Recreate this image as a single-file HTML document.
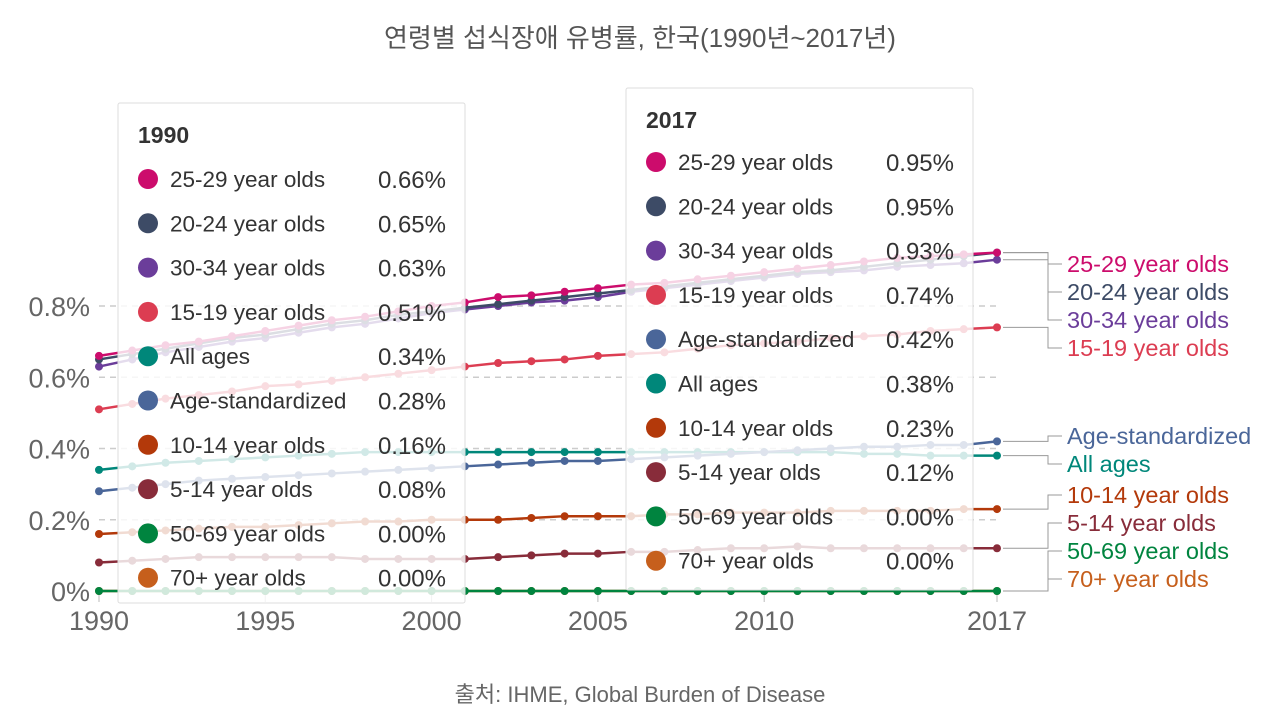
<!DOCTYPE html>
<html><head><meta charset="utf-8">
<style>
body{margin:0;background:#fff;width:1280px;height:714px;overflow:hidden;font-family:"Liberation Sans","Noto Sans CJK KR",sans-serif;}
svg text{font-family:"Liberation Sans","Noto Sans CJK KR",sans-serif;}
</style></head>
<body>
<svg id="chart" width="1280" height="714" viewBox="0 0 1280 714" xmlns="http://www.w3.org/2000/svg">
<text x="640" y="47" text-anchor="middle" font-size="26" fill="#555">연령별 섭식장애 유병률, 한국(1990년~2017년)</text>
<text x="640" y="702" text-anchor="middle" font-size="22" fill="#666">출처: IHME, Global Burden of Disease</text>
<g id="grid"></g><g id="lines"></g><g id="labels"></g><g id="tips"></g>
</svg>
<script>
const years=[];for(let y=1990;y<=2017;y++)years.push(y);
const seriesNames=["25-29 year olds","20-24 year olds","30-34 year olds","15-19 year olds","Age-standardized","All ages","10-14 year olds","5-14 year olds","50-69 year olds","70+ year olds"];
const seriesColors=["#cc0c6c","#3d4b66","#6b3d9a","#dc3d52","#4a6699","#00877a","#b3390a","#882c3a","#00843f","#c65f1c"];
const s2529=[.66,.675,.69,.70,.715,.73,.745,.76,.77,.785,.80,.81,.825,.83,.84,.85,.86,.865,.875,.885,.895,.905,.915,.925,.935,.94,.945,.95];
const s2024=[.65,.665,.68,.695,.71,.72,.735,.75,.76,.775,.785,.795,.805,.815,.825,.835,.845,.855,.865,.875,.885,.895,.90,.91,.92,.93,.94,.95];
const s3034=[.63,.65,.67,.685,.70,.71,.725,.74,.75,.765,.78,.79,.80,.81,.815,.825,.84,.85,.86,.87,.88,.89,.895,.90,.91,.915,.92,.93];
const s1519=[.51,.525,.54,.55,.56,.575,.58,.59,.60,.61,.62,.63,.64,.645,.65,.66,.665,.67,.68,.69,.695,.70,.71,.715,.72,.73,.735,.74];
const sStd=[.28,.29,.30,.31,.315,.32,.325,.33,.335,.34,.345,.35,.355,.36,.365,.365,.37,.375,.38,.385,.39,.395,.40,.405,.405,.41,.41,.42];
const sAll=[.34,.35,.36,.365,.37,.375,.38,.385,.39,.39,.39,.39,.39,.39,.39,.39,.39,.39,.39,.39,.39,.39,.39,.385,.385,.38,.38,.38];
const s1014=[.16,.165,.17,.175,.18,.18,.185,.19,.195,.195,.2,.2,.2,.205,.21,.21,.21,.215,.215,.22,.22,.22,.225,.225,.225,.225,.23,.23];
const s514=[.08,.085,.09,.095,.095,.095,.095,.095,.09,.09,.09,.09,.095,.1,.105,.105,.11,.11,.115,.12,.12,.125,.12,.12,.12,.12,.12,.12];
const s5069=new Array(28).fill(0);
const s70=new Array(28).fill(0);
const allSeries=[s2529,s2024,s3034,s1519,sStd,sAll,s1014,s514,s5069,s70];
const yTicks=[0,0.2,0.4,0.6,0.8];
const yTickLabels=["0%","0.2%","0.4%","0.6%","0.8%"];
const xTicks=[1990,1995,2000,2005,2010,2017];
const tip1Names=["25-29 year olds","20-24 year olds","30-34 year olds","15-19 year olds","All ages","Age-standardized","10-14 year olds","5-14 year olds","50-69 year olds","70+ year olds"];
const tip1Values=["0.66%","0.65%","0.63%","0.51%","0.34%","0.28%","0.16%","0.08%","0.00%","0.00%"];
const tip2Names=["25-29 year olds","20-24 year olds","30-34 year olds","15-19 year olds","Age-standardized","All ages","10-14 year olds","5-14 year olds","50-69 year olds","70+ year olds"];
const tip2Values=["0.95%","0.95%","0.93%","0.74%","0.42%","0.38%","0.23%","0.12%","0.00%","0.00%"];
const labelY=[264,292,320,348,436,464,495,523,551,579];

const X=y=>99+(y-1990)*(898/27);
const Y=v=>591-v*356.25;
const NS="http://www.w3.org/2000/svg";
function mk(tag,attrs,parent,text){const e=document.createElementNS(NS,tag);for(const k in attrs)e.setAttribute(k,attrs[k]);if(text!==undefined)e.textContent=text;parent.appendChild(e);return e;}
const grid=document.getElementById('grid'),lines=document.getElementById('lines'),labels=document.getElementById('labels'),tips=document.getElementById('tips');
yTicks.forEach((t,i)=>{
 if(t>0){const l=mk('line',{x1:99,x2:1000,y1:Y(t),y2:Y(t),stroke:'#ccc','stroke-dasharray':'6,5','stroke-width':1.5},grid);
 }
 const tx=mk('text',{x:90,y:Y(t)+10,'text-anchor':'end','font-size':27,fill:'#666'},grid,yTickLabels[i]);
 
});
const ax=mk('line',{x1:99,x2:99,y1:591,y2:600,stroke:'#bbb'},grid);

xTicks.forEach(t=>{
 const tk=mk('line',{x1:X(t),x2:X(t),y1:594,y2:602,stroke:'#bbb'},grid);
 
 const tx=mk('text',{x:X(t),y:630,'text-anchor':'middle','font-size':27,fill:'#666'},grid,String(t));
 
});
for(let s=allSeries.length-1;s>=0;s--){
 const d=allSeries[s].map((v,i)=>(i?'L':'M')+X(years[i])+','+Y(v)).join('');
 const p=mk('path',{d:d,fill:'none',stroke:seriesColors[s],'stroke-width':2.5},lines);
 
 
 allSeries[s].forEach((v,i)=>{const c=mk('circle',{cx:X(years[i]),cy:Y(v),r:4,fill:seriesColors[s]},lines);
  });
 const last=allSeries[s][27];
 const py=Y(last),ly=labelY[s];
 const con=mk('path',{d:`M1003,${py}H1048V${ly}H1062`,fill:'none',stroke:'#999','stroke-width':1},labels);
 
 const lt=mk('text',{x:1067,y:ly+8,'font-size':23.5,fill:seriesColors[s]},labels,seriesNames[s]);
 
}
function tip(x,y,w,h,first,title,names,vals,name){
 const g=mk('g',{},tips);
 mk('rect',{x:x,y:y,width:w,height:h,fill:'rgba(255,255,255,0.82)',stroke:'#ddd',rx:2},g);
 const tt=mk('text',{x:x+20,y:y+40,'font-size':23,'font-weight':'bold',fill:'#333'},g,title);
 
 names.forEach((n,i)=>{
  const cy=y+first+i*44.3;
  const col=seriesColors[seriesNames.indexOf(n)];
  mk('circle',{cx:x+30,cy:cy,r:10,fill:col},g);
  const a=mk('text',{x:x+52,y:cy+8,'font-size':22.5,fill:'#333'},g,n);
  
  const b=mk('text',{x:x+w-19,y:cy+9,'font-size':24,fill:'#333','text-anchor':'end'},g,vals[i]);
  
 });
}
tip(118,103,347,500,76,"1990",tip1Names,tip1Values,'tooltip-1990');
tip(626,88,347,502,74,"2017",tip2Names,tip2Values,'tooltip-2017');
</script>
</body></html>
